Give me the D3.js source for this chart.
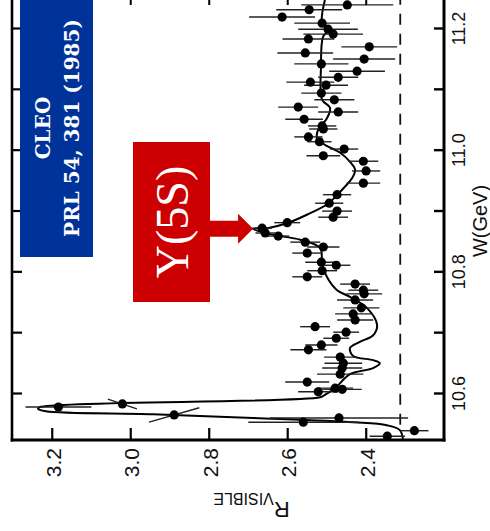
<!DOCTYPE html>
<html>
<head>
<meta charset="utf-8">
<script src="https://cdn.jsdelivr.net/npm/d3@7"></script>
<style>
  html, body { margin: 0; padding: 0; background: #fff; }
  svg { display: block; }
</style>
</head>
<body>
<svg id="chart" width="490" height="531"></svg>
<script>
// ---- data (W in GeV, R visible) ----
const pointW = [11.238, 11.230, 11.218, 11.208, 11.198, 11.190, 11.182, 11.169, 11.159, 11.149,
  11.141, 11.129, 11.119, 11.111, 11.106, 11.093, 11.082, 11.070, 11.062, 11.050,
  11.039, 11.034, 11.021, 11.013, 11.001, 10.990, 10.981, 10.965, 10.945, 10.926,
  10.912, 10.899, 10.889, 10.880, 10.871, 10.863, 10.858, 10.848, 10.840, 10.830,
  10.815, 10.810, 10.801, 10.791, 10.779, 10.769, 10.763, 10.753, 10.740, 10.730,
  10.720, 10.709, 10.700, 10.690, 10.679, 10.671, 10.659, 10.649, 10.641, 10.631,
  10.618, 10.608, 10.606, 10.602, 10.577, 10.582, 10.564, 10.552, 10.559, 10.529, 10.538];
const pointR = [2.447, 2.544, 2.613, 2.511, 2.496, 2.483, 2.546, 2.391, 2.554, 2.404,
  2.513, 2.422, 2.470, 2.541, 2.501, 2.513, 2.480, 2.572, 2.470, 2.557,
  2.511, 2.508, 2.546, 2.518, 2.455, 2.508, 2.406, 2.399, 2.406, 2.473,
  2.493, 2.473, 2.483, 2.600, 2.664, 2.656, 2.623, 2.554, 2.508, 2.549,
  2.513, 2.475, 2.511, 2.549, 2.427, 2.406, 2.404, 2.427, 2.411, 2.432,
  2.427, 2.529, 2.450, 2.475, 2.513, 2.546, 2.465, 2.457, 2.460, 2.465,
  2.549, 2.478, 2.460, 2.521, 3.183, 3.020, 2.888, 2.559, 2.468, 2.345, 2.276];
const pointErrR = [0.117, 0.084, 0.084, 0.071, 0.076, 0.076, 0.066, 0.071, 0.071, 0.079,
  0.069, 0.071, 0.051, 0.061, 0.056, 0.051, 0.051, 0.051, 0.051, 0.048,
  0.036, 0.036, 0.036, 0.031, 0.036, 0.043, 0.038, 0.036, 0.043, 0.036,
  0.036, 0.038, 0.038, 0.033, 0.025, 0.025, 0.028, 0.038, 0.041, 0.038,
  0.041, 0.036, 0.038, 0.038, 0.038, 0.038, 0.046, 0.046, 0.046, 0.046,
  0.046, 0.038, 0.033, 0.033, 0.041, 0.046, 0.041, 0.048, 0.051, 0.059,
  0.056, 0.046, 0.050, 0.051, 0.084, 0.037, 0.064, 0.140, 0.176, 0.045, 0.036];
// W component of the (tilted) error bars; zero for ordinary bars
const pointErrW = [0,0,0,0,0,0,0,0,0,0, 0,0,0,0,0,0,0,0,0,0, 0,0,0,0,0,0,0,0,0,0,
  0,0,0,0,0,0,0,0,0,0, 0,0,0,0,0,0,0,0,0,0, 0,0,0,0,0,0,0,0,0,0,
  0,0,0,0,0, 0.008, -0.0118, 0,0,0,0];

// fitted curve
const curveW = [11.246, 11.208, 11.197, 11.185, 11.136, 11.082, 11.069, 11.049, 11.036, 11.019,
  11.008, 10.995, 10.980, 10.967, 10.953, 10.939, 10.927, 10.912, 10.893, 10.879,
  10.871, 10.870, 10.860, 10.852, 10.838, 10.814, 10.791, 10.769, 10.758, 10.740,
  10.712, 10.695, 10.684, 10.674, 10.661, 10.654, 10.649, 10.641, 10.631, 10.608,
  10.597, 10.593, 10.577, 10.574, 10.570, 10.565, 10.559, 10.552, 10.547, 10.539, 10.523];
const curveR = [2.504, 2.511, 2.496, 2.509, 2.514, 2.511, 2.491, 2.501, 2.519, 2.524,
  2.504, 2.465, 2.440, 2.427, 2.435, 2.453, 2.471, 2.494, 2.550, 2.601,
  2.651, 2.687, 2.636, 2.567, 2.516, 2.511, 2.499, 2.473, 2.440, 2.397,
  2.371, 2.381, 2.415, 2.440, 2.432, 2.381, 2.364, 2.381, 2.440, 2.478,
  2.504, 2.516, 3.230, 3.235, 3.215, 2.942, 2.687, 2.432, 2.346, 2.313, 2.305];

// continuum level (dashed)
const continuumR = 2.312;
const continuumW = [10.548, 11.30];

// axes
const wTicks = [10.6, 10.7, 10.8, 10.9, 11.0, 11.1, 11.2];
const wLabels = [10.6, 10.8, 11.0, 11.2];
const rTicks = [2.4, 2.6, 2.8, 3.0, 3.2];
const wTitle = "W(GeV)";
const rTitleMain = "R";
const rTitleSub = "VISIBLE";

// annotations
const boxLines = ["CLEO", "PRL 54, 381 (1985)"];
const peakLabel = "Υ(5S)";
const peakW = 10.870, peakR = 2.687;

// ---- drawing ----
const svg = d3.select("#chart");
svg.append("rect").attr("width", 490).attr("height", 531).attr("fill", "#fff");

// rotated plot: W runs upward (right axis), R runs leftward (bottom axis)
const xR = d3.scaleLinear().domain([2.2, 3.3]).range([444.2, 12.5]);
const yW = d3.scaleLinear().domain([10.6, 11.2]).range([393, 28]);

const frameL = 12, frameR = 444, frameB = 440;
const sans = "'Liberation Sans', Arial, Helvetica, sans-serif";

// dashed continuum line
svg.append("line")
  .attr("x1", xR(continuumR)).attr("x2", xR(continuumR))
  .attr("y1", yW(continuumW[0])).attr("y2", yW(continuumW[1]))
  .attr("stroke", "#111").attr("stroke-width", 1.8)
  .attr("stroke-dasharray", "11,9");

// fitted curve
const pts = curveW.map((w, i) => ({ w, r: curveR[i] }));
svg.append("path")
  .datum(pts)
  .attr("fill", "none").attr("stroke", "#000").attr("stroke-width", 2)
  .attr("stroke-linejoin", "round")
  .attr("d", d3.line().x(d => xR(d.r)).y(d => yW(d.w)).curve(d3.curveCatmullRom.alpha(0.5)));

// data points with error bars
const data = pointW.map((w, i) => ({ w, r: pointR[i], er: pointErrR[i], ew: pointErrW[i] }));
svg.append("g").selectAll("line").data(data).join("line")
  .attr("x1", d => xR(d.r - d.er)).attr("x2", d => xR(d.r + d.er))
  .attr("y1", d => yW(d.w - d.ew)).attr("y2", d => yW(d.w + d.ew))
  .attr("stroke", "#222").attr("stroke-width", 1.4);
svg.append("g").selectAll("circle").data(data).join("circle")
  .attr("cx", d => xR(d.r)).attr("cy", d => yW(d.w)).attr("r", 4.6)
  .attr("fill", "#000");

// frame
const frame = svg.append("g").attr("stroke", "#000").attr("fill", "none");
frame.append("line").attr("x1", frameL).attr("x2", frameL).attr("y1", -5).attr("y2", frameB + 1.5).attr("stroke-width", 2.6);
frame.append("line").attr("x1", frameR).attr("x2", frameR).attr("y1", -5).attr("y2", frameB + 1.5).attr("stroke-width", 3);
frame.append("line").attr("x1", frameL - 1.3).attr("x2", frameR + 1.5).attr("y1", frameB).attr("y2", frameB).attr("stroke-width", 3);

// right axis (W)
const rightAxis = svg.append("g").attr("transform", `translate(${frameR},0)`)
  .call(d3.axisRight(yW).tickValues(wTicks).tickSize(-10).tickSizeOuter(0)
    .tickFormat(d => wLabels.some(v => Math.abs(v - d) < 1e-9) ? d3.format(".1f")(d) : ""));
rightAxis.select(".domain").remove();
rightAxis.selectAll(".tick line").attr("stroke", "#000").attr("stroke-width", 2.4);
rightAxis.selectAll(".tick text")
  .attr("x", 0).attr("y", 0).attr("dy", 0)
  .attr("transform", "translate(21,0) rotate(-90)")
  .attr("text-anchor", "middle")
  .attr("font-family", sans).attr("font-size", 18).attr("fill", "#111");

// left ticks (mirror)
const leftAxis = svg.append("g").attr("transform", `translate(${frameL},0)`)
  .call(d3.axisLeft(yW).tickValues(wTicks).tickSize(-10).tickSizeOuter(0).tickFormat(""));
leftAxis.select(".domain").remove();
leftAxis.selectAll(".tick line").attr("stroke", "#000").attr("stroke-width", 2.2);

// bottom axis (R)
const bottomAxis = svg.append("g").attr("transform", `translate(0,${frameB})`)
  .call(d3.axisBottom(xR).tickValues(rTicks).tickSize(-12).tickSizeOuter(0).tickFormat(d3.format(".1f")));
bottomAxis.select(".domain").remove();
bottomAxis.selectAll(".tick line").attr("stroke", "#000").attr("stroke-width", 2.2);
bottomAxis.selectAll(".tick text")
  .attr("x", 0).attr("y", 0).attr("dy", 0)
  .attr("transform", "translate(8.5,8) rotate(-90)")
  .attr("text-anchor", "end")
  .attr("font-family", sans).attr("font-size", 21).attr("fill", "#111");

// top ticks (mirror)
const topAxis = svg.append("g").attr("transform", "translate(0,-2)")
  .call(d3.axisTop(xR).tickValues(rTicks).tickSize(-7).tickSizeOuter(0).tickFormat(""));
topAxis.select(".domain").remove();
topAxis.selectAll(".tick line").attr("stroke", "#000").attr("stroke-width", 2);

// axis titles
svg.append("text")
  .attr("transform", `translate(487,221) rotate(-90)`)
  .attr("text-anchor", "middle")
  .attr("font-family", sans).attr("font-size", 20).attr("fill", "#111")
  .text(wTitle);

const rt = svg.append("text")
  .attr("transform", `translate(251.5,502) rotate(180)`)
  .attr("text-anchor", "middle")
  .attr("font-family", sans).attr("fill", "#111");
rt.append("tspan").attr("font-size", 22).text(rTitleMain);
rt.append("tspan").attr("font-size", 16).attr("dy", 9).text(rTitleSub);

// blue reference box
svg.append("rect").attr("x", 20).attr("y", 0).attr("width", 73).attr("height", 257).attr("fill", "#003399");
boxLines.forEach((t, i) => {
  svg.append("text")
    .attr("transform", `translate(${50 + i * 29},128) rotate(-90)`)
    .attr("text-anchor", "middle")
    .attr("font-family", "'DejaVu Serif', serif").attr("font-weight", "bold")
    .attr("font-size", 20).attr("fill", "#fff")
    .text(t);
});

// red label box with arrow
svg.append("rect").attr("x", 133).attr("y", 142).attr("width", 77).attr("height", 160).attr("fill", "#cc0000");
const tipX = xR(peakR), tipY = yW(peakW);
svg.append("path")
  .attr("fill", "#cc0000")
  .attr("d", `M209,${tipY - 8} L${tipX - 15},${tipY - 8} L${tipX - 15},${tipY - 15} L${tipX},${tipY} L${tipX - 15},${tipY + 15} L${tipX - 15},${tipY + 8} L209,${tipY + 8} Z`);
svg.append("text")
  .attr("transform", "translate(188,222) rotate(-90)")
  .attr("text-anchor", "middle")
  .attr("font-family", "'Liberation Serif', 'Times New Roman', serif")
  .attr("font-size", 46).attr("fill", "#fff")
  .text(peakLabel);
</script>
</body>
</html>
